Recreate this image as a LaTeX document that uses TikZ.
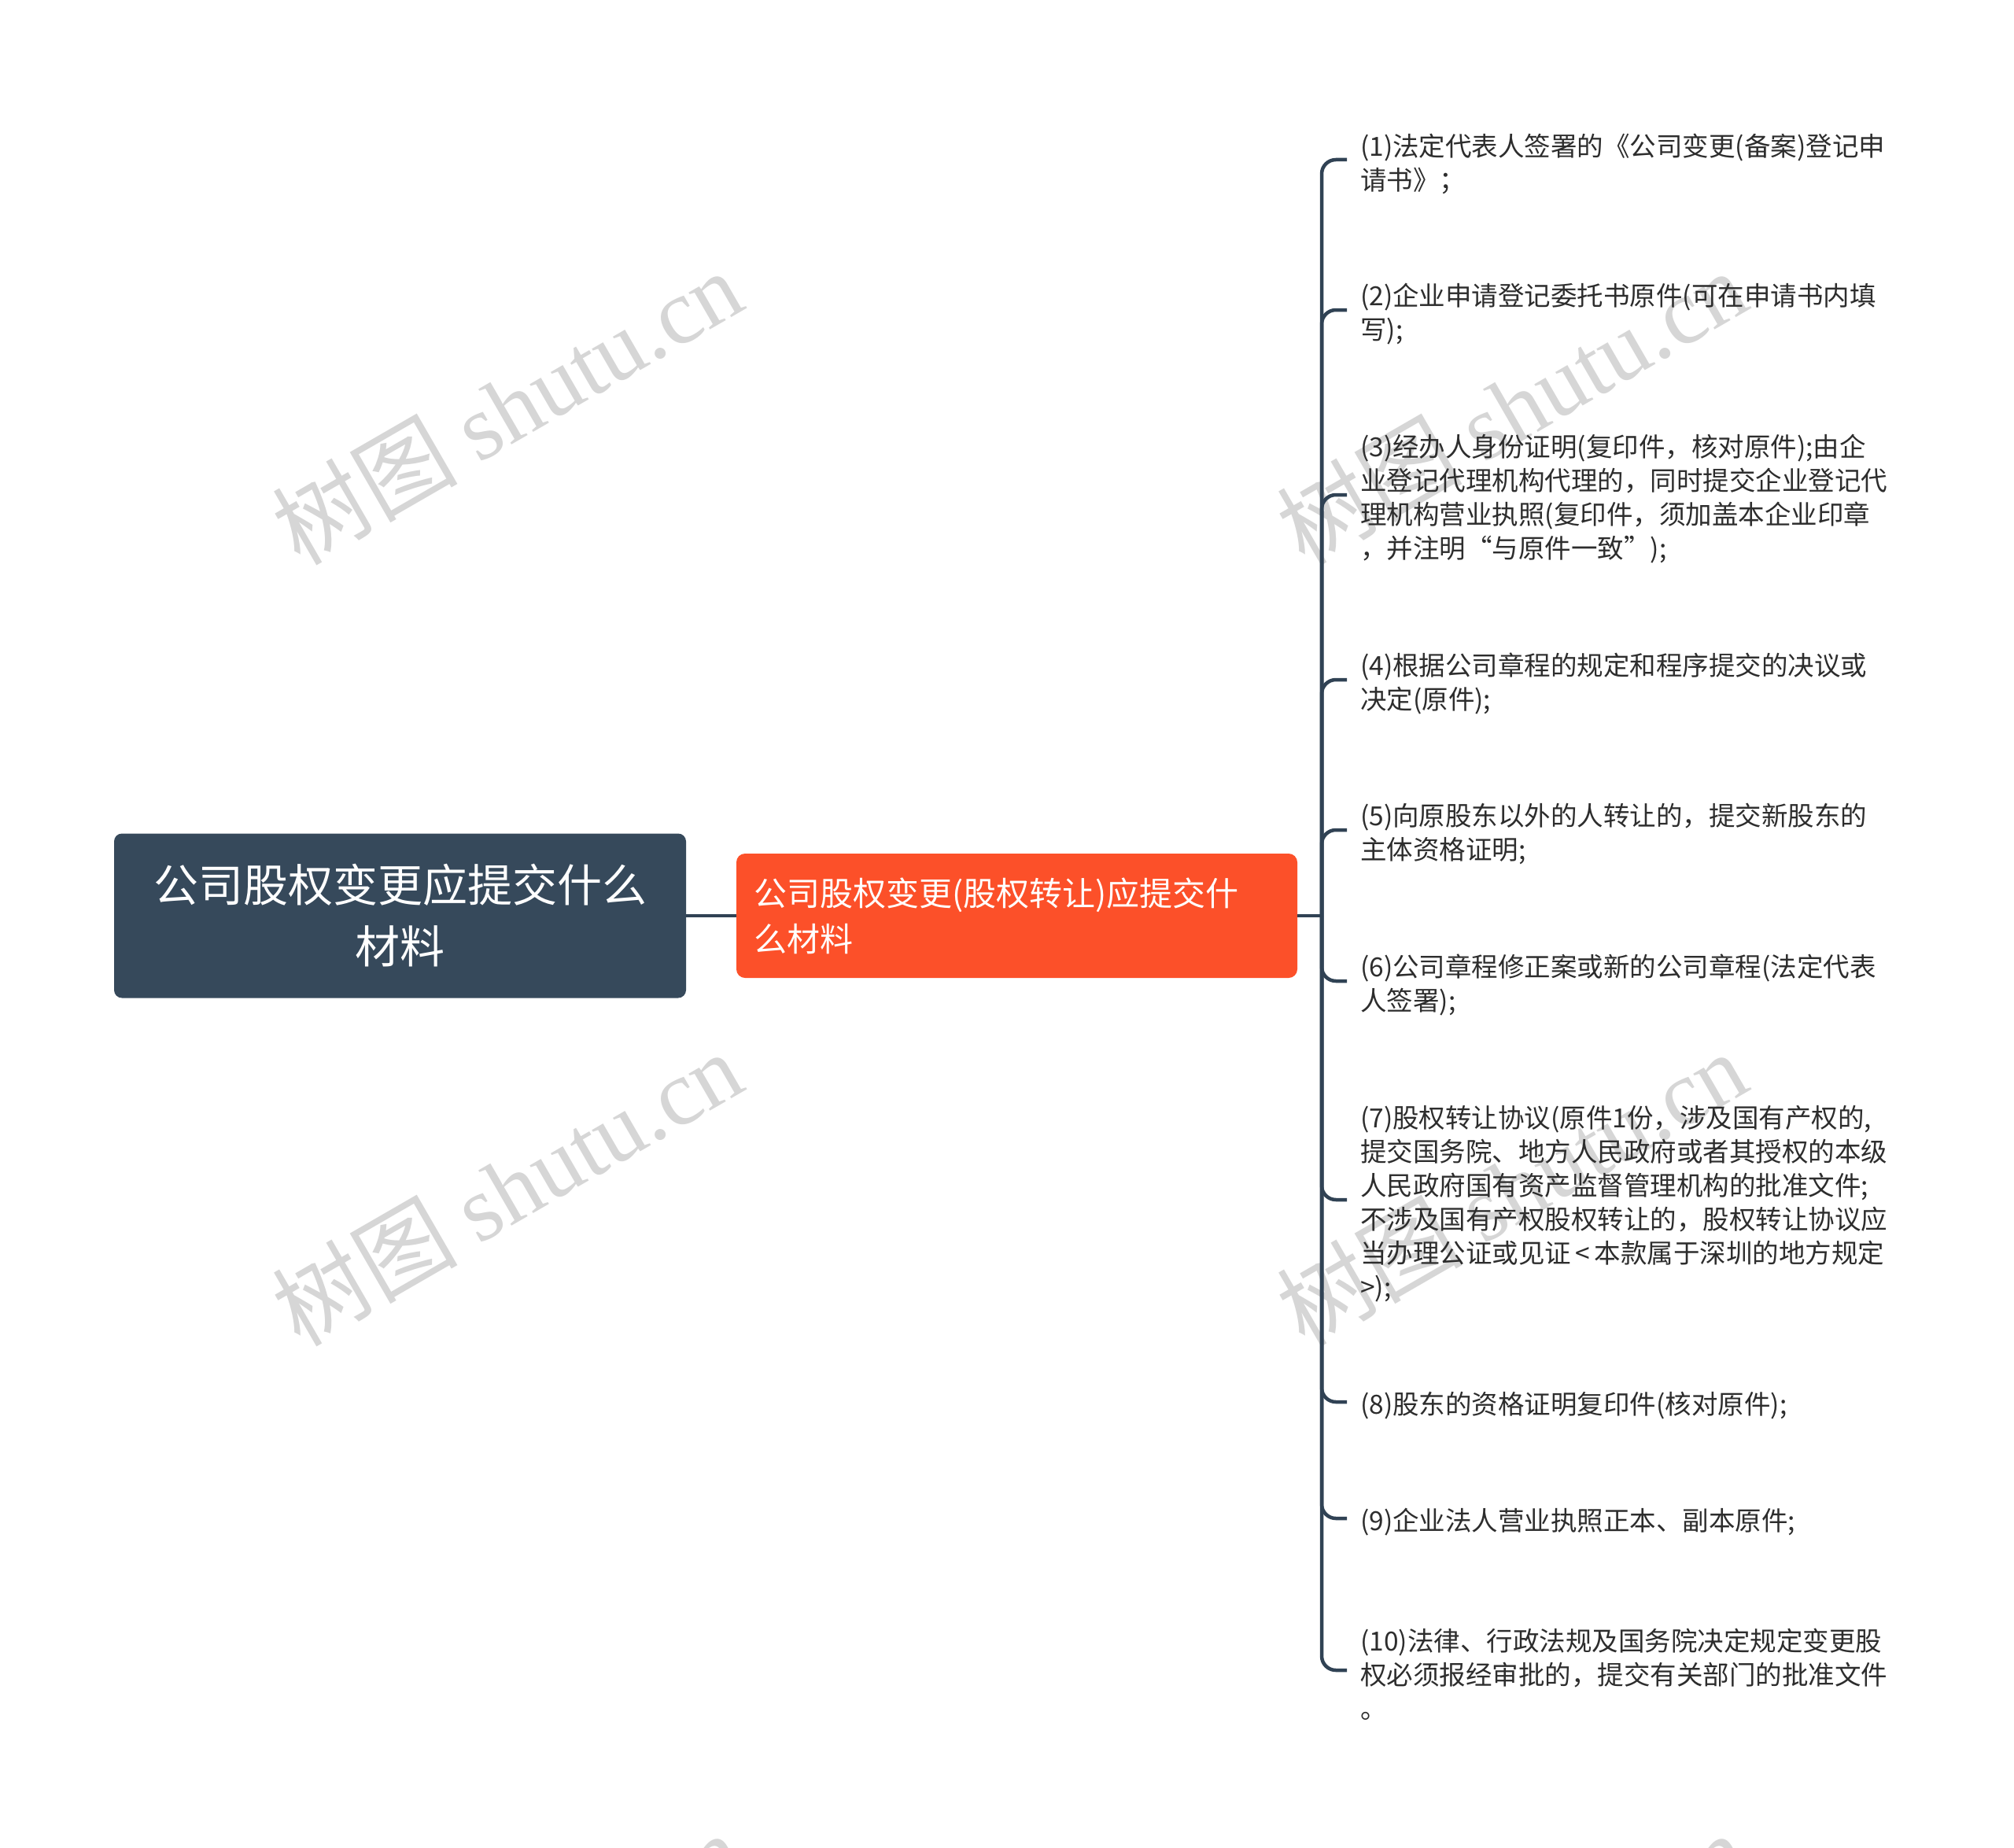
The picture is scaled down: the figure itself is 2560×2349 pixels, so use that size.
\documentclass[tikz,border=0pt]{standalone}
\usepackage{fontspec}
\setmainfont{Noto Sans CJK SC}
\newfontfamily\wmlat{Liberation Serif}
\definecolor{rootc}{RGB}{54,73,91}
\definecolor{midc}{RGB}{252,80,41}
\definecolor{linec}{RGB}{48,66,84}
\definecolor{itemtext}{RGB}{45,45,45}
\definecolor{wmgray}{RGB}{214,214,214}
\tikzset{
  rootbox/.style={fill=rootc, rounded corners=10pt, text=white, align=center,
    minimum width=727pt, minimum height=209pt, inner sep=0pt,
    font=\fontsize{57pt}{78pt}\selectfont},
  midbox/.style={fill=midc, rounded corners=11pt, text=white, align=left,
    minimum width=713pt, minimum height=158pt, inner xsep=22pt, inner ysep=0pt,
    text width=669pt, font=\fontsize{42pt}{58pt}\selectfont},
  item/.style={anchor=west, inner xsep=17pt, inner ysep=0pt, align=left,
    text=itemtext, font=\fontsize{33.5pt}{43pt}\selectfont},
  conn/.style={draw=linec, line width=4.5pt},
  branch/.style={conn, rounded corners=18pt},
  wm/.style={text=wmgray, rotate=30, inner sep=0pt,
    font=\fontsize{118pt}{118pt}\selectfont}
}
\begin{document}
\begin{tikzpicture}[x=1pt,y=-1pt]
\useasboundingbox (0,0) rectangle (2560,2349);
\fill[white] (0,0) rectangle (2560,2349);
% watermarks
\node[wm] (w1) at (644,517) {树图 {\wmlat shutu.cn}};
\node[wm] (w2) at (1921,517) {树图 {\wmlat shutu.cn}};
\node[wm] (w3) at (644,1510) {树图 {\wmlat shutu.cn}};
\node[wm] (w4) at (1921,1510) {树图 {\wmlat shutu.cn}};
\node[wm] (w5) at (644,2503) {树图 {\wmlat shutu.cn}};
\node[wm] (w6) at (1921,2503) {树图 {\wmlat shutu.cn}};
% main nodes
\node[rootbox] (r) at (508.5,1164) {公司股权变更应提交什么\\材料};
\node[midbox] (c) at (1292.5,1164) {公司股权变更(股权转让)应提交什\\么材料};
\coordinate (t) at (1680,1164);
% items (text sits 5px below its hook)
\node[item] (i1) at (1712,208) {(1)法定代表人签署的《公司变更(备案)登记申\\请书》；};
\node[item] (i2) at (1712,399) {(2)企业申请登记委托书原件(可在申请书内填\\写);};
\node[item] (i3) at (1712,634) {(3)经办人身份证明(复印件，核对原件);由企\\业登记代理机构代理的，同时提交企业登记代\\理机构营业执照(复印件，须加盖本企业印章\\，并注明“与原件一致”);};
\node[item] (i4) at (1712,869) {(4)根据公司章程的规定和程序提交的决议或\\决定(原件);};
\node[item] (i5) at (1712,1060) {(5)向原股东以外的人转让的，提交新股东的\\主体资格证明;};
\node[item] (i6) at (1712,1252) {(6)公司章程修正案或新的公司章程(法定代表\\人签署);};
\node[item] (i7) at (1712,1530) {(7)股权转让协议(原件1份，涉及国有产权的,\\提交国务院、地方人民政府或者其授权的本级\\人民政府国有资产监督管理机构的批准文件;\\不涉及国有产权股权转让的，股权转让协议应\\当办理公证或见证\,<\,本款属于深圳的地方规定\\>);};
\node[item] (i8) at (1712,1787) {(8)股东的资格证明复印件(核对原件);};
\node[item] (i9) at (1712,1935) {(9)企业法人营业执照正本、副本原件;};
\node[item] (i10) at (1712,2128) {(10)法律、行政法规及国务院决定规定变更股\\权必须报经审批的，提交有关部门的批准文件\\。};
% connectors
\draw[conn] (r.east) -- (c.west);
\draw[conn] (c.east) -- (t);
\foreach \k in {1,...,10} {
  \draw[branch] (t) |- ([yshift=5pt]i\k.west);
}
\end{tikzpicture}
\end{document}
